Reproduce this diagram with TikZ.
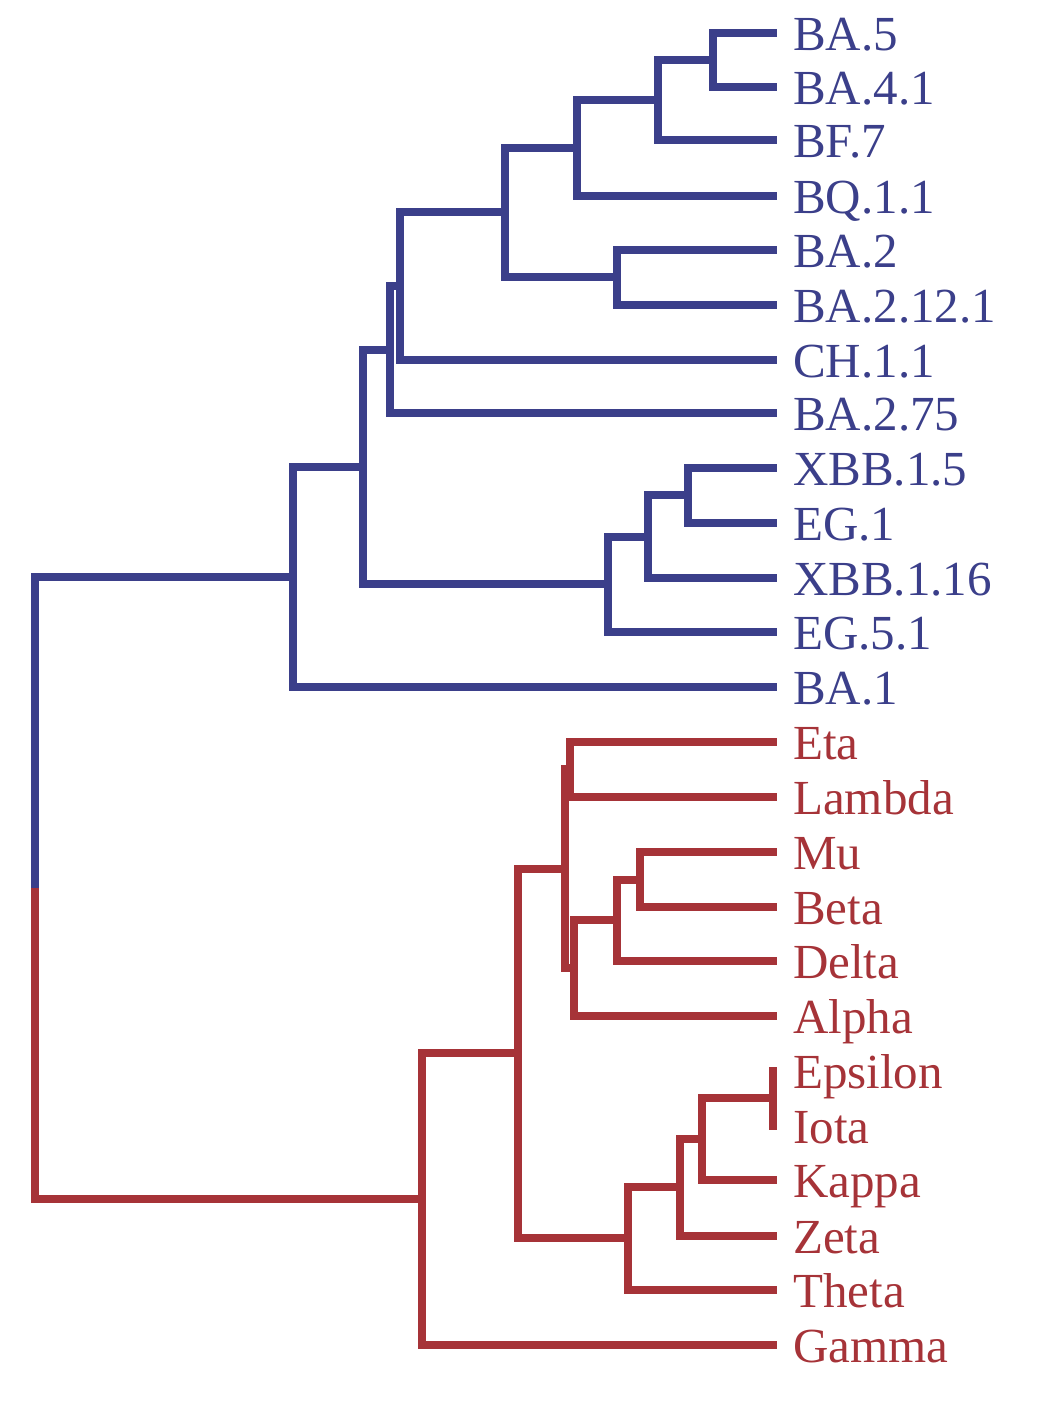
\documentclass[tikz,border=0pt]{standalone}
\usepackage{fontspec}
\setmainfont{Liberation Serif}
\definecolor{cblue}{RGB}{59,63,138}
\definecolor{cred}{RGB}{166,51,56}
\begin{document}
\begin{tikzpicture}[x=1pt,y=-1pt,
  br/.style={line width=7.5pt,line cap=butt,line join=miter},
  bb/.style={br,draw=cblue},
  rb/.style={br,draw=cred},
  lab/.style={anchor=base west,inner sep=0pt,font=\fontsize{49}{58}\selectfont},
  blab/.style={lab,text=cblue},
  rlab/.style={lab,text=cred}]
\useasboundingbox (0,0) rectangle (1043,1406);
% leaf tips and labels
\foreach \n/\y/\t/\s in {a/33/BA.5/blab, b/87/BA.4.1/blab, c/140/BF.7/blab, d/196/BQ.1.1/blab,
  e/250/BA.2/blab, f/305/BA.2.12.1/blab, g/360/CH.1.1/blab, h/413/BA.2.75/blab,
  i/468/XBB.1.5/blab, j/523/EG.1/blab, k/578/XBB.1.16/blab, l/632/EG.5.1/blab, m/687/BA.1/blab,
  n/742/Eta/rlab, o/797/Lambda/rlab, p/852/Mu/rlab, q/907/Beta/rlab, r/961/Delta/rlab,
  s/1016/Alpha/rlab, t/1071/Epsilon/rlab, u/1126/Iota/rlab, v/1180/Kappa/rlab,
  w/1236/Zeta/rlab, x/1290/Theta/rlab, z/1345/Gamma/rlab}{
  \coordinate (t\n) at (777,\y);
  \node[\s] (L\n) at (793,\y+17) {\t};
}
% blue internal nodes
\coordinate (nab) at (713,60);
\coordinate (nabc) at (658,100);
\coordinate (nabcd) at (577,148);
\coordinate (nef) at (617,277);
\coordinate (nA) at (505,212);
\coordinate (nB) at (400,286);
\coordinate (nC) at (390,350);
\coordinate (nij) at (688,495);
\coordinate (nijk) at (648,537);
\coordinate (nijkl) at (608,584);
\coordinate (nD) at (363,467);
\coordinate (nE) at (293,577);
% red internal nodes
\coordinate (nno) at (570,769);
\coordinate (npq) at (640,880);
\coordinate (npqr) at (617,920);
\coordinate (npqrs) at (574,968);
\coordinate (nF) at (565,869);
\coordinate (ntu) at (773,1098);
\coordinate (ntuv) at (702,1139);
\coordinate (ntuvw) at (680,1187);
\coordinate (ntuvwx) at (628,1238);
\coordinate (nG) at (518,1053);
\coordinate (nH) at (422,1199);
\coordinate (root) at (35,888);
% blue branches
\draw[bb] (nab) |- (ta); \draw[bb] (nab) |- (tb);
\draw[bb] (nabc) |- (nab); \draw[bb] (nabc) |- (tc);
\draw[bb] (nabcd) |- (nabc); \draw[bb] (nabcd) |- (td);
\draw[bb] (nef) |- (te); \draw[bb] (nef) |- (tf);
\draw[bb] (nA) |- (nabcd); \draw[bb] (nA) |- (nef);
\draw[bb] (nB) |- (nA); \draw[bb] (nB) |- (tg);
\draw[bb] (nC) |- (nB); \draw[bb] (nC) |- (th);
\draw[bb] (nij) |- (ti); \draw[bb] (nij) |- (tj);
\draw[bb] (nijk) |- (nij); \draw[bb] (nijk) |- (tk);
\draw[bb] (nijkl) |- (nijk); \draw[bb] (nijkl) |- (tl);
\draw[bb] (nD) |- (nC); \draw[bb] (nD) |- (nijkl);
\draw[bb] (nE) |- (nD); \draw[bb] (nE) |- (tm);
\draw[bb] (root) |- (nE);
% red branches
\draw[rb] (nno) |- (tn); \draw[rb] (nno) |- (to);
\draw[rb] (npq) |- (tp); \draw[rb] (npq) |- (tq);
\draw[rb] (npqr) |- (npq); \draw[rb] (npqr) |- (tr);
\draw[rb] (npqrs) |- (npqr); \draw[rb] (npqrs) |- (ts);
\draw[rb] (nF) |- (nno); \draw[rb] (nF) |- (npqrs);
\draw[rb] (ntu) |- (tt); \draw[rb] (ntu) |- (tu);
\draw[rb] (ntuv) |- (ntu); \draw[rb] (ntuv) |- (tv);
\draw[rb] (ntuvw) |- (ntuv); \draw[rb] (ntuvw) |- (tw);
\draw[rb] (ntuvwx) |- (ntuvw); \draw[rb] (ntuvwx) |- (tx);
\draw[rb] (nG) |- (nF); \draw[rb] (nG) |- (ntuvwx);
\draw[rb] (nH) |- (nG); \draw[rb] (nH) |- (tz);
\draw[rb] (root) |- (nH);
\end{tikzpicture}
\end{document}
